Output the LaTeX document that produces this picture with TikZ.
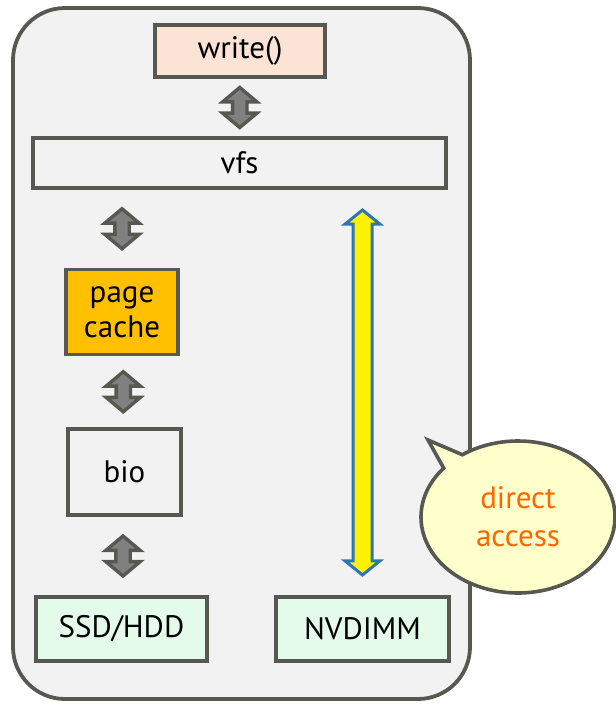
\documentclass[tikz,border=0pt]{standalone}
\usepackage{fontspec}
\setmainfont{PT Sans}
\usetikzlibrary{shapes.arrows,shapes.callouts,calc}
\definecolor{edge}{RGB}{88,88,82}
\definecolor{panel}{RGB}{242,242,242}
\definecolor{peach}{RGB}{251,228,214}
\definecolor{amber}{RGB}{255,192,0}
\definecolor{mint}{RGB}{228,250,235}
\definecolor{cream}{RGB}{255,255,204}
\definecolor{flowblue}{RGB}{46,117,182}
\definecolor{accent}{RGB}{255,102,0}
\definecolor{arrowgray}{RGB}{128,128,128}
\tikzset{
  layer/.style={draw=edge, line width=3.6pt, inner sep=0pt, font=\fontsize{31}{34}\selectfont, align=center},
  dblarrow/.style={double arrow, draw=edge, fill=arrowgray, line width=3.4pt, rotate=90,
    inner sep=0pt, inner ysep=5.5pt, minimum width=0pt, minimum height=40pt,
    double arrow head extend=10pt, double arrow tip angle=100},
  fastpath/.style={double arrow, draw=flowblue, fill=yellow, line width=3pt, rotate=90,
    inner sep=0pt, inner ysep=8pt, minimum width=0pt, minimum height=365pt,
    double arrow head extend=8pt, double arrow tip angle=102}
}
\begin{document}
\begin{tikzpicture}[x=1pt,y=-1pt]
\useasboundingbox (0,0) rectangle (616,705);
% kernel panel
\draw[draw=edge, fill=panel, line width=3.8pt, rounded corners=52pt]
  (13,8) rectangle (470,699);
% layers
\node[layer, fill=peach, minimum width=170pt, minimum height=52pt] (write) at (240,51) {write()};
\node[layer, fill=panel, minimum width=413pt, minimum height=50pt] (vfs) at (239.5,163) {vfs};
\node[layer, fill=amber, minimum width=112pt, minimum height=85pt] (cache) at (122,312) {page\\[1pt]cache};
\node[layer, fill=panel, minimum width=113pt, minimum height=86pt] (bio) at (124.5,472) {bio};
\node[layer, fill=mint, minimum width=171pt, minimum height=64pt] (ssd) at (121.5,629) {SSD/HDD};
\node[layer, fill=mint, minimum width=173pt, minimum height=64pt] (nvdimm) at (362.5,629) {NVDIMM};
% block arrows between layers
\node[dblarrow] (a1) at ($(write.south)!0.5!(vfs.north)$) {};
\node[dblarrow] (a2) at ($(vfs.south -| cache.north)!0.5!(cache.north)$) {};
\node[dblarrow] (a3) at ($(cache.south)!0.5!(bio.north)$) {};
\node[dblarrow] (a4) at ($(bio.south)!0.5!(ssd.north)$) {};
% direct path from vfs to NVDIMM
\node[fastpath] (dax) at ($(vfs.south -| nvdimm.north)!0.5!(nvdimm.north)$) {};
% speech bubble
\coordinate (tip) at (428,440);
\node[ellipse callout, draw=edge, fill=cream, line width=3.6pt, minimum width=194pt, minimum height=152pt,
  callout absolute pointer=(tip), text=accent, align=center, font=\fontsize{31}{38}\selectfont]
  (note) at (518,517) {direct\\access};
\end{tikzpicture}
\end{document}
